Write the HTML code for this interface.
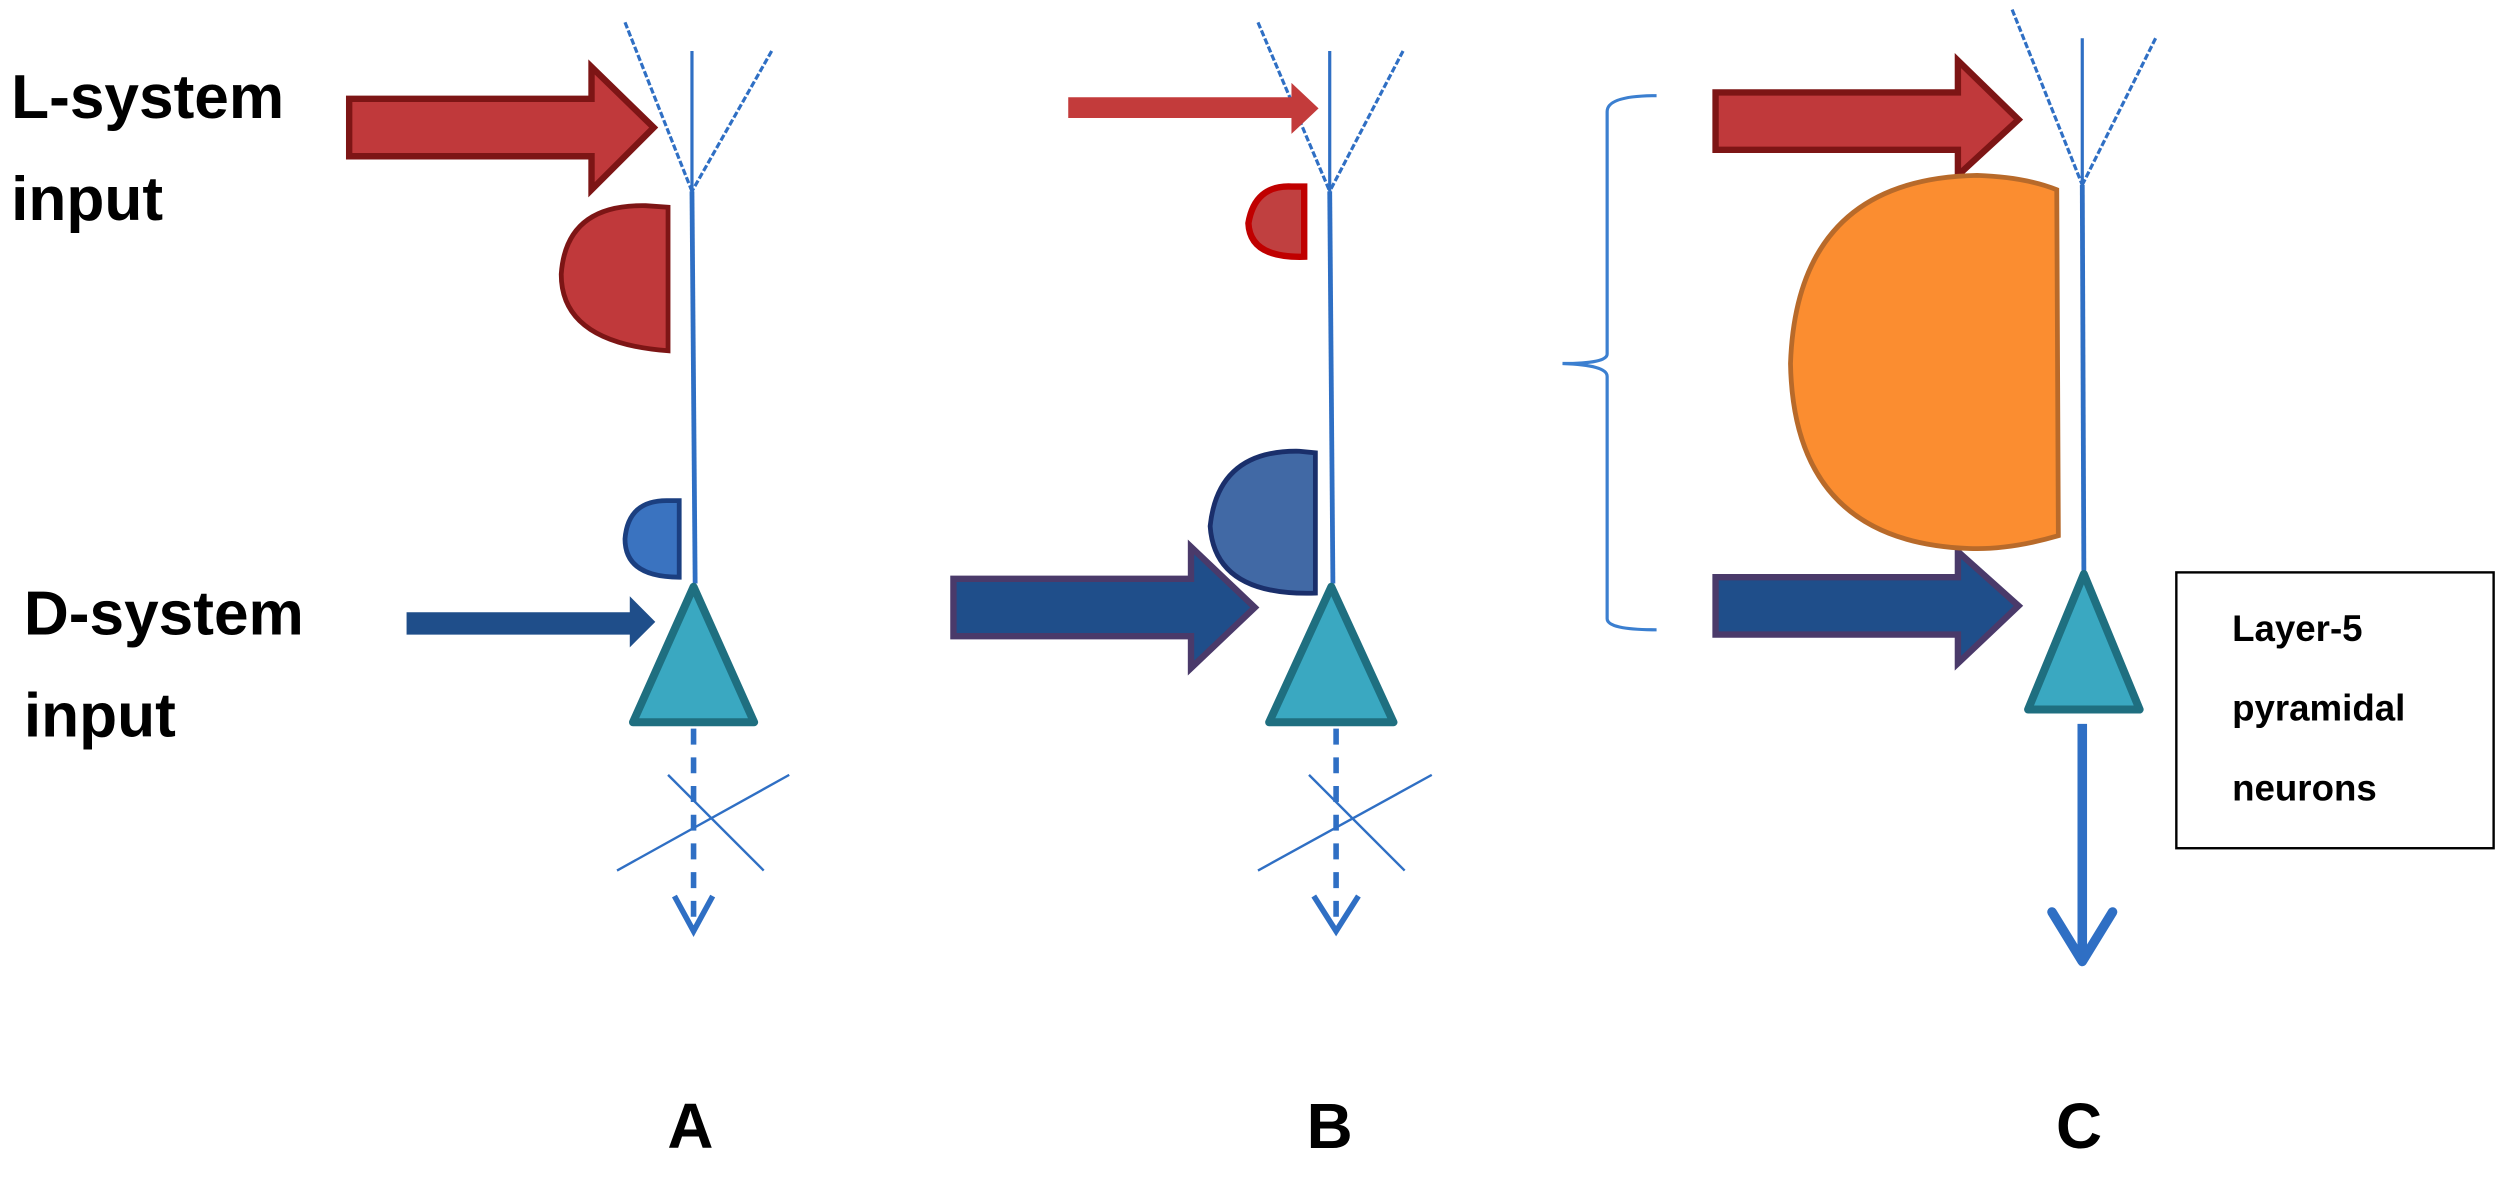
<!DOCTYPE html>
<html><head><meta charset="utf-8"><style>
html,body{margin:0;padding:0;background:#fff;}
svg{display:block;}
text{font-family:"Liberation Sans",Arial,sans-serif;font-weight:bold;fill:#000;}
</style></head><body>
<svg width="2500" height="1184" viewBox="0 0 1568 742.6" preserveAspectRatio="none" xmlns="http://www.w3.org/2000/svg">
<!-- Labels -->
<text x="7" y="74" font-size="39">L-system</text>
<text x="7" y="138" font-size="39">input</text>
<text x="15" y="398" font-size="39">D-system</text>
<text x="15" y="462" font-size="39">input</text>
<text x="433" y="720" font-size="40" text-anchor="middle">A</text>
<text x="834" y="720" font-size="40" text-anchor="middle">B</text>
<text x="1304" y="720" font-size="40" text-anchor="middle">C</text>

<!-- Panel A -->
<g stroke="#2f6fc4" fill="none">
<line x1="392" y1="14" x2="434" y2="120" stroke-width="2" stroke-dasharray="4 1.5"/>
<line x1="484" y1="32" x2="434" y2="120" stroke-width="2" stroke-dasharray="4 1.5"/>
<line x1="434" y1="32" x2="434" y2="120" stroke-width="2"/>
<line x1="434" y1="120" x2="436" y2="366" stroke-width="3"/>
</g>
<polygon points="219,62 371,62 371,42 410,80 371,119 371,98 219,98" fill="#c0393b" stroke="#7d1515" stroke-width="4"/>
<path d="M419,130 L419,220 Q352,215 352,172 Q355,128 405,129 Z" fill="#c0393b" stroke="#7d1515" stroke-width="3"/>
<path d="M426,314 L426,362 Q392,362 392,338 Q394,313 420,314 Z" fill="#3a73c0" stroke="#1b3f80" stroke-width="3"/>
<polygon points="255,384 395,384 395,374 411,390 395,406 395,398 255,398" fill="#1f4e8a"/>
<polygon points="435,368 473,453 397,453" fill="#3aa8c1" stroke="#1f6f80" stroke-width="5" stroke-linejoin="round"/>
<line x1="435" y1="457" x2="435" y2="582" stroke="#2f6fc4" stroke-width="3.5" stroke-dasharray="10 8"/>
<polyline points="423,562 435,584 447,562" fill="none" stroke="#2f6fc4" stroke-width="3.5"/>
<line x1="419" y1="486" x2="479" y2="546" stroke="#2f6fc4" stroke-width="1.5"/>
<line x1="387" y1="546" x2="495" y2="486" stroke="#2f6fc4" stroke-width="1.5"/>

<!-- Panel B -->
<g stroke="#2f6fc4" fill="none">
<line x1="789" y1="14" x2="834" y2="120" stroke-width="2" stroke-dasharray="4 1.5"/>
<line x1="880" y1="32" x2="834" y2="120" stroke-width="2" stroke-dasharray="4 1.5"/>
<line x1="834" y1="32" x2="834" y2="120" stroke-width="2"/>
<line x1="834" y1="120" x2="836" y2="366" stroke-width="3"/>
</g>
<polygon points="670,61 810,61 810,52 827,68 810,84 810,74 670,74" fill="#c33b3b"/>
<path d="M818,117 L818,161 Q784,162 783,140 Q787,116 810,117 Z" fill="#c04040" stroke="#c00000" stroke-width="4"/>
<path d="M825,284 L825,372 Q762,374 759,330 Q764,282 815,283 Z" fill="#4169a5" stroke="#1a2f6b" stroke-width="3"/>
<polygon points="598,363 747,363 747,343 787,381 747,419 747,399 598,399" fill="#1f4e8a" stroke="#4a3a6a" stroke-width="4"/>
<polygon points="835,368 874,453 796,453" fill="#3aa8c1" stroke="#1f6f80" stroke-width="5" stroke-linejoin="round"/>
<line x1="838" y1="457" x2="838" y2="582" stroke="#2f6fc4" stroke-width="3.5" stroke-dasharray="10 8"/>
<polyline points="824,562 838,584 852,562" fill="none" stroke="#2f6fc4" stroke-width="3.5"/>
<line x1="821" y1="486" x2="881" y2="546" stroke="#2f6fc4" stroke-width="1.5"/>
<line x1="789" y1="546" x2="898" y2="486" stroke="#2f6fc4" stroke-width="1.5"/>

<!-- Panel C -->
<path d="M1039,60 Q1008,60 1008,70 L1008,222 Q1008,228 980,228 Q1008,229 1008,236 L1008,388 Q1008,395 1039,395" fill="none" stroke="#3b7fd0" stroke-width="2"/>
<g stroke="#2f6fc4" fill="none">
<line x1="1262" y1="6" x2="1306" y2="116" stroke-width="2" stroke-dasharray="4 1.5"/>
<line x1="1352" y1="24" x2="1306" y2="116" stroke-width="2" stroke-dasharray="4 1.5"/>
<line x1="1306" y1="24" x2="1306" y2="116" stroke-width="2"/>
<line x1="1306" y1="116" x2="1307" y2="358" stroke-width="3"/>
</g>
<polygon points="1076,58 1228,58 1228,38 1266,75 1228,110 1228,94 1076,94" fill="#c0393b" stroke="#7d1515" stroke-width="4"/>
<polygon points="1076,362 1228,362 1228,346 1266,380 1228,416 1228,398 1076,398" fill="#1f4e8a" stroke="#4a3a6a" stroke-width="4"/>
<path d="M1290,119 L1291,336 Q1260,345 1235,344 Q1125,340 1123,228 Q1127,112 1240,110 Q1270,111 1290,119 Z" fill="#fb8d30" stroke="#b86a2a" stroke-width="3"/>
<polygon points="1307,360 1342,445 1272,445" fill="#3aa8c1" stroke="#1f6f80" stroke-width="5" stroke-linejoin="round"/>
<line x1="1306" y1="454" x2="1306" y2="600" stroke="#2f6fc4" stroke-width="6"/>
<polyline points="1287,572 1306,603 1325,572" fill="none" stroke="#2f6fc4" stroke-width="6" stroke-linecap="round" stroke-linejoin="round"/>
<rect x="1365" y="359" width="199" height="173" fill="#fff" stroke="#000" stroke-width="1.5"/>
<text x="1400" y="402" font-size="23">Layer-5</text>
<text x="1400" y="452" font-size="23">pyramidal</text>
<text x="1400" y="502" font-size="23">neurons</text>
</svg>
</body></html>
